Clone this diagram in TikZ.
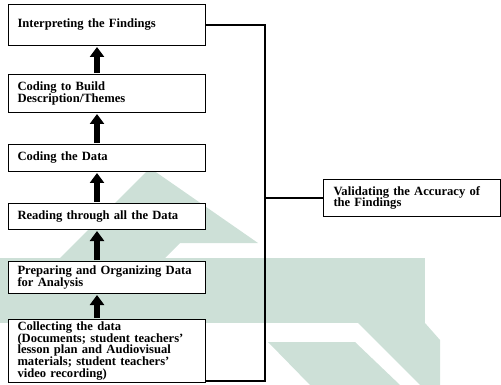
\documentclass[tikz,border=0pt]{standalone}
\usepackage{fontspec}
\setmainfont{Liberation Serif}
\usetikzlibrary{positioning,arrows.meta}

\definecolor{wmgreen}{RGB}{205,224,215}

\tikzset{
  stepbox/.style={draw, rectangle, fill=white, line width=1pt, text width=179pt, inner xsep=9pt, inner ysep=2pt, align=left, font=\fontsize{12.6}{11.8}\selectfont\bfseries},
  uparrow/.style={line width=6pt, -{Triangle[width=14pt,length=10pt]}, shorten >=1pt, shorten <=1pt},
  link/.style={line width=1.2pt},
  spineline/.style={line width=2.6pt},
}

\begin{document}
\begin{tikzpicture}[x=1pt, y=-1pt]
\useasboundingbox (0,0) rectangle (501,385);

% faint logo in the background
\fill[wmgreen] (150,168) -- (258,243) -- (180,243) -- (165,258) -- (60,258) -- cycle;
\fill[wmgreen] (0,258) rectangle (425,323);
\fill[wmgreen] (268,342) -- (355,342) -- (400,385) -- (310,385) -- cycle;
\fill[wmgreen] (358,323) -- (425,323) -- (440,340) -- (440,385) -- (420,385) -- cycle;

% the steps, bottom to top
\node[stepbox, minimum height=63pt, anchor=south west] (collect) at (8,383) {Collecting the data\\(Documents; student teachers'\\lesson plan and Audiovisual\\materials; student teachers'\\video recording)};
\node[stepbox, minimum height=32pt, above=25pt of collect] (prep) {Preparing and Organizing Data\\for Analysis};
\node[stepbox, minimum height=26pt, above=31pt of prep] (read) {Reading through all the Data};
\node[stepbox, minimum height=27pt, above=31pt of read] (code) {Coding the Data};
\node[stepbox, minimum height=38pt, above=31pt of code] (themes) {Coding to Build\\Description/Themes};
\node[stepbox, minimum height=41pt, above=28pt of themes] (interp) {Interpreting the Findings};

\node[stepbox, text width=157pt, inner xsep=10pt, minimum height=37pt, anchor=north west] (validate) at (323,179) {Validating the Accuracy of\\the Findings};

\coordinate (arrx) at (97,0);
\coordinate (spine) at (265,0);
\coordinate (cbot) at ([yshift=2pt]collect.south east);

\draw[uparrow] (collect.north -| arrx) -- (prep.south -| arrx);
\draw[uparrow] (prep.north -| arrx) -- (read.south -| arrx);
\draw[uparrow] (read.north -| arrx) -- (code.south -| arrx);
\draw[uparrow] (code.north -| arrx) -- (themes.south -| arrx);
\draw[uparrow] (themes.north -| arrx) -- (interp.south -| arrx);

\draw[link] (interp.east) -- (interp.east -| spine);
\draw[link] (cbot) -- (cbot -| spine);
\draw[spineline, shorten <=-0.6pt, shorten >=-0.6pt] (interp.east -| spine) -- (cbot -| spine);
\draw[link] (validate.west -| spine) -- (validate.west);

\end{tikzpicture}
\end{document}
